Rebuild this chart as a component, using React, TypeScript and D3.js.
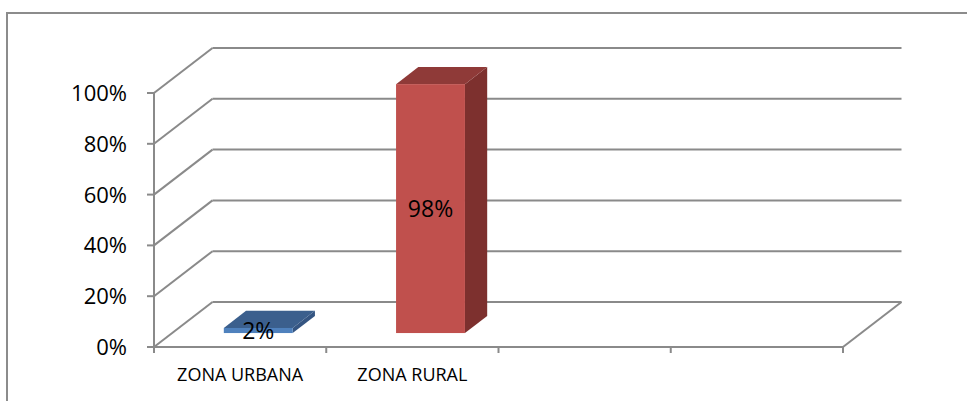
import React, { useRef, useEffect } from 'react';
import * as d3 from 'd3';

// chart values
const categories = ['ZONA URBANA', 'ZONA RURAL', '', ''];
const values = [0.02, 0.98];
const yTickValues = [0, 0.2, 0.4, 0.6, 0.8, 1];
const barColors = [
  { front: '#4F81BD', top: '#3B5F8D', side: '#355582' },
  { front: '#C0504D', top: '#8F3A38', side: '#7D302E' },
];

const W = 967;
const H = 401;
const DX = 58.5; // depth offset of the back wall
const DY = -45;
const GRID = '#8A8A8A';
const FONT = '"Open Sans", "Liberation Sans", sans-serif';

const App = () => {
  const svgRef = useRef<SVGSVGElement>(null);

  useEffect(() => {
    const svg = d3.select(svgRef.current);
    svg.selectAll('*').remove();

    const x = d3.scaleBand<number>()
      .domain(d3.range(categories.length))
      .range([154, 843]);

    const y = d3.scaleLinear()
      .domain([0, 1])
      .range([347, 93]);

    const pt = (px: number, py: number, f: number) => [px + f * DX, py + f * DY];

    // outer frame
    svg.append('rect')
      .attr('x', 7).attr('y', 13)
      .attr('width', W + 20).attr('height', H + 20)
      .attr('fill', 'white')
      .attr('stroke', '#8C8C8C')
      .attr('stroke-width', 2);

    const grid = svg.append('g')
      .attr('stroke', GRID)
      .attr('stroke-width', 2)
      .attr('fill', 'none');

    const [xl, xr] = x.range();

    // back wall lines and side wall diagonals
    yTickValues.forEach(v => {
      const [bx0, by] = pt(xl, y(v), 1);
      const [bx1] = pt(xr, y(v), 1);
      grid.append('line').attr('x1', bx0).attr('y1', by).attr('x2', bx1).attr('y2', by);
      grid.append('line').attr('x1', xl).attr('y1', y(v)).attr('x2', bx0).attr('y2', by);
      grid.append('line').attr('x1', xl - 7).attr('y1', y(v)).attr('x2', xl).attr('y2', y(v));
    });

    // floor front edge, right edge, y axis
    const [frx, fry] = pt(xr, y(0), 1);
    grid.append('line').attr('x1', xl).attr('y1', y(0)).attr('x2', xr).attr('y2', y(0));
    grid.append('line').attr('x1', xr).attr('y1', y(0)).attr('x2', frx).attr('y2', fry);
    grid.append('line').attr('x1', xl).attr('y1', y(0)).attr('x2', xl).attr('y2', y(1));

    // category ticks
    d3.range(categories.length + 1).forEach(i => {
      const tx = xl + i * x.bandwidth();
      grid.append('line').attr('x1', tx).attr('y1', y(0)).attr('x2', tx).attr('y2', y(0) + 6);
    });

    // y labels
    svg.append('g')
      .selectAll('text')
      .data(yTickValues)
      .join('text')
      .attr('x', 127)
      .attr('y', d => y(d))
      .attr('dy', '0.36em')
      .attr('text-anchor', 'end')
      .attr('font-family', FONT)
      .attr('font-size', 22)
      .attr('fill', '#000')
      .text(d => d3.format('.0%')(d));

    // category labels
    svg.append('g')
      .selectAll('text')
      .data(categories)
      .join('text')
      .attr('x', (_, i) => (x(i) as number) + x.bandwidth() / 2)
      .attr('y', 381)
      .attr('text-anchor', 'middle')
      .attr('font-family', FONT)
      .attr('font-size', 18)
      .attr('fill', '#000')
      .text(d => d);

    // 3d bars
    const f0 = 0.31;
    const f1 = 0.69;
    const bw = x.bandwidth() * 0.4;
    values.forEach((v, i) => {
      const c = barColors[i];
      const cx = (x(i) as number) + x.bandwidth() / 2;
      const x0 = cx - bw / 2;
      const x1 = cx + bw / 2;
      const yt = y(v);
      const yb = y(0);
      const poly = (pts: number[][]) => pts.map(p => p.join(',')).join(' ');

      svg.append('polygon')
        .attr('points', poly([pt(x1, yt, f0), pt(x1, yt, f1), pt(x1, yb, f1), pt(x1, yb, f0)]))
        .attr('fill', c.side);
      svg.append('polygon')
        .attr('points', poly([pt(x0, yt, f0), pt(x1, yt, f0), pt(x1, yt, f1), pt(x0, yt, f1)]))
        .attr('fill', c.top);
      const [fx, fy] = pt(x0, yt, f0);
      const [, fyb] = pt(x0, yb, f0);
      svg.append('rect')
        .attr('x', fx).attr('y', fy)
        .attr('width', bw).attr('height', Math.max(fyb - fy, 0))
        .attr('fill', c.front);

      svg.append('text')
        .attr('x', fx + bw / 2)
        .attr('y', (fy + fyb) / 2)
        .attr('dy', '0.36em')
        .attr('text-anchor', 'middle')
        .attr('font-family', FONT)
        .attr('font-size', 23)
        .attr('fill', '#000')
        .text(d3.format('.0%')(v));
    });
  }, []);

  return (
    <svg
      ref={svgRef}
      width={W}
      height={H}
      style={{ position: 'absolute', left: 0, top: 0, background: 'white' }}
    />
  );
};

export default App;
